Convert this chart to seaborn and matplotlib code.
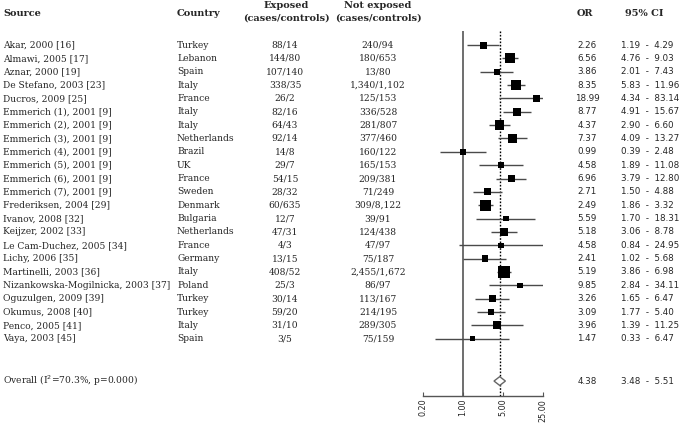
import numpy as np
import pandas as pd
import matplotlib
matplotlib.use("Agg")
import matplotlib.pyplot as plt
import matplotlib.transforms as mtransforms
import seaborn as sns

sources = ["Akar, 2000 [16]", "Almawi, 2005 [17]", "Aznar, 2000 [19]", "De Stefano, 2003 [23]",
           "Ducros, 2009 [25]", "Emmerich (1), 2001 [9]", "Emmerich (2), 2001 [9]",
           "Emmerich (3), 2001 [9]", "Emmerich (4), 2001 [9]", "Emmerich (5), 2001 [9]",
           "Emmerich (6), 2001 [9]", "Emmerich (7), 2001 [9]", "Frederiksen, 2004 [29]",
           "Ivanov, 2008 [32]", "Keijzer, 2002 [33]", "Le Cam-Duchez, 2005 [34]",
           "Lichy, 2006 [35]", "Martinelli, 2003 [36]", "Nizankowska-Mogilnicka, 2003 [37]",
           "Oguzulgen, 2009 [39]", "Okumus, 2008 [40]", "Penco, 2005 [41]", "Vaya, 2003 [45]"]
countries = ["Turkey", "Lebanon", "Spain", "Italy", "France", "Italy", "Italy", "Netherlands",
             "Brazil", "UK", "France", "Sweden", "Denmark", "Bulgaria", "Netherlands", "France",
             "Germany", "Italy", "Poland", "Turkey", "Turkey", "Italy", "Spain"]
exposed = ["88/14", "144/80", "107/140", "338/35", "26/2", "82/16", "64/43", "92/14", "14/8",
           "29/7", "54/15", "28/32", "60/635", "12/7", "47/31", "4/3", "13/15", "408/52",
           "25/3", "30/14", "59/20", "31/10", "3/5"]
not_exposed = ["240/94", "180/653", "13/80", "1,340/1,102", "125/153", "336/528", "281/807",
               "377/460", "160/122", "165/153", "209/381", "71/249", "309/8,122", "39/91",
               "124/438", "47/97", "75/187", "2,455/1,672", "86/97", "113/167", "214/195",
               "289/305", "75/159"]
odds_ratio = [2.26, 6.56, 3.86, 8.35, 18.99, 8.77, 4.37, 7.37, 0.99, 4.58, 6.96, 2.71, 2.49,
              5.59, 5.18, 4.58, 2.41, 5.19, 9.85, 3.26, 3.09, 3.96, 1.47]
ci_low = [1.19, 4.76, 2.01, 5.83, 4.34, 4.91, 2.90, 4.09, 0.39, 1.89, 3.79, 1.50, 1.86,
          1.70, 3.06, 0.84, 1.02, 3.86, 2.84, 1.65, 1.77, 1.39, 0.33]
ci_high = [4.29, 9.03, 7.43, 11.96, 83.14, 15.67, 6.60, 13.27, 2.48, 11.08, 12.80, 4.88, 3.32,
           18.31, 8.78, 24.95, 5.68, 6.98, 34.11, 6.47, 5.40, 11.25, 6.47]
# relative study weight (box size)
weight = [7, 10, 6, 10, 7, 8, 9.5, 8.5, 6.5, 6.5, 7, 7, 11, 5.5, 8, 5.5, 6.5, 12, 5.5, 7, 6.5, 8, 5.5]
overall_label = "Overall (I$^2$=70.3%, p=0.000)"
overall_or, overall_low, overall_high = 4.38, 3.48, 5.51
tick_values = [0.2, 1.0, 5.0, 25.0]
tick_labels = ["0.20", "1.00", "5.00", "25.00"]

n = len(sources)
df = pd.DataFrame({"source": sources, "country": countries, "or": odds_ratio,
                   "lo": ci_low, "hi": ci_high, "w": weight})
df["row"] = np.arange(n)
df["area"] = (df["w"] * 0.72) ** 2
overall_row = 25.17

sns.set_theme(style="white")
plt.rcParams["font.family"] = ["DejaVu Serif"]

W, H = 685, 424
fig = plt.figure(figsize=(W / 100, H / 100), dpi=100)
ax = fig.add_axes([423 / W, (H - 396) / H, 120 / W, (396 - 31) / H])
ax.set_xscale("log")
ax.set_xlim(0.2, 25)
ax.set_ylim(26.29, -1.05)

line_col = "#4a4a4a"
ax.axvline(1.0, color="#555555", lw=1.2, zorder=1)
ax.axvline(overall_or, color="black", lw=1.0, ls=(0, (1.2, 1.2)), zorder=1)
ax.hlines(df["row"], df["lo"], df["hi"], color=line_col, lw=1.0, zorder=2)
sns.scatterplot(data=df, x="or", y="row", size="area",
                sizes=(df["area"].min(), df["area"].max()), marker="s",
                color="black", edgecolor="black", linewidth=0, legend=False, ax=ax, zorder=3)
dh = 0.33
ax.fill([overall_low, overall_or, overall_high, overall_or],
        [overall_row, overall_row - dh, overall_row, overall_row + dh],
        facecolor="white", edgecolor="#666666", lw=1.0, zorder=3)

for s in ["left", "top", "right"]:
    ax.spines[s].set_visible(False)
ax.spines["bottom"].set_color("#555555")
ax.spines["bottom"].set_linewidth(1.0)
ax.set_yticks([])
ax.set_xticks(tick_values)
ax.set_xticklabels(tick_labels, rotation=90, fontsize=5.8, family="DejaVu Sans")
ax.xaxis.set_minor_locator(matplotlib.ticker.NullLocator())
ax.tick_params(axis="x", direction="in", length=3, width=0.8, color="#555555", pad=2,
               bottom=True)
ax.set_xlabel("")
ax.set_ylabel("")

trans = mtransforms.blended_transform_factory(fig.transFigure, ax.transData)
def fx(px):
    return px / W

fs = 6.6
nfs = 6.3
for i in range(n):
    ax.text(fx(3), i, sources[i], transform=trans, ha="left", va="center", fontsize=fs, clip_on=False)
    ax.text(fx(177), i, countries[i], transform=trans, ha="left", va="center", fontsize=fs, clip_on=False)
    ax.text(fx(285), i, exposed[i], transform=trans, ha="center", va="center", fontsize=fs, clip_on=False)
    ax.text(fx(378), i, not_exposed[i], transform=trans, ha="center", va="center", fontsize=fs, clip_on=False)
    ax.text(fx(587), i, f"{odds_ratio[i]:.2f}", transform=trans, ha="center", va="center",
            fontsize=nfs, family="DejaVu Sans", clip_on=False)
    ax.text(fx(621), i, f"{ci_low[i]:.2f}  -  {ci_high[i]:.2f}", transform=trans, ha="left",
            va="center", fontsize=nfs, family="DejaVu Sans", clip_on=False)

ax.text(fx(3), overall_row, overall_label, transform=trans, ha="left", va="center", fontsize=fs, clip_on=False)
ax.text(fx(587), overall_row, f"{overall_or:.2f}", transform=trans, ha="center", va="center",
        fontsize=nfs, family="DejaVu Sans", clip_on=False)
ax.text(fx(621), overall_row, f"{overall_low:.2f}  -  {overall_high:.2f}", transform=trans,
        ha="left", va="center", fontsize=nfs, family="DejaVu Sans", clip_on=False)

def hdr(px, py, txt, ha="left"):
    fig.text(px / W, 1 - py / H, txt, ha=ha, va="center", fontsize=7.0, fontweight="bold")

hdr(3, 13, "Source")
hdr(177, 13, "Country")
hdr(286, 5, "Exposed", "center")
hdr(286, 18, "(cases/controls)", "center")
hdr(378, 5, "Not exposed", "center")
hdr(378, 18, "(cases/controls)", "center")
hdr(585, 13, "OR", "center")
hdr(644, 13, "95% CI", "center")

fig.savefig("out.png", dpi=100)
